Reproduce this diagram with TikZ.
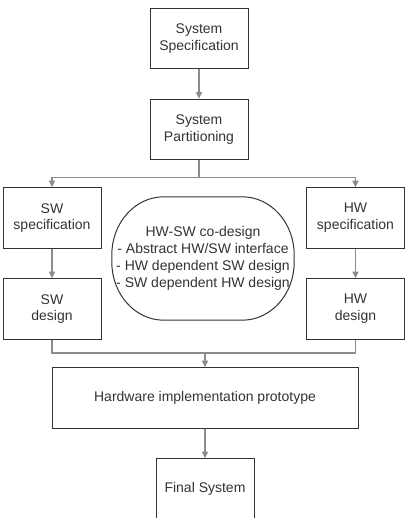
\documentclass[tikz,border=0pt]{standalone}
\usepackage{fontspec}
\setmainfont{Liberation Sans}
\usetikzlibrary{positioning,arrows.meta,calc}

\begin{document}
\begin{tikzpicture}[
  x=1pt, y=1pt,
  font=\fontsize{14}{16.8}\selectfont, text=black!80,
  blk/.style={draw=black!80, line width=1pt, align=center, minimum width=98pt, minimum height=60.5pt, inner sep=2pt},
  conn/.style={draw=black!45, line width=1.4pt},
  arr/.style={conn, -{Triangle[length=6.5pt, width=6pt]}},
  node distance=29.5pt]
\useasboundingbox (0,0) rectangle (408,518);
\node[blk] (sspec) at (199,479.5) {System\\Specification};
\node[blk, below=of sspec] (spart) {System\\Partitioning};
\node[blk] (swspec) at (52,300) {SW\\specification};
\node[blk, below=of swspec] (swdes) {SW\\design};
\node[blk] (hwspec) at (355.5,300) {HW\\specification};
\node[blk, below=of hwspec] (hwdes) {HW\\design};
\node[align=center, minimum width=182pt, minimum height=123pt, inner sep=0pt] (cd) at (203,259.5)
  {HW-SW co-design\\- Abstract HW/SW interface\\- HW dependent SW design\\- SW dependent HW design};
\node[blk, minimum width=306pt] (hwimpl) at (205,120) {Hardware implementation prototype};
\node[blk, below=of hwimpl] (final) {Final System};
\coordinate (split) at ($(spart.south)+(0,-17)$);
\coordinate (merge) at (205,165);
% stadium around the co-design text
\draw[black!80, line width=1pt] ([xshift=52pt]cd.north west) -- ([xshift=-52pt]cd.north east)
  arc[start angle=90, end angle=0, x radius=52pt, y radius=58pt] -- ([yshift=58pt]cd.south east)
  arc[start angle=0, end angle=-90, x radius=52pt, y radius=58pt] -- ([xshift=52pt]cd.south west)
  arc[start angle=270, end angle=180, x radius=52pt, y radius=58pt] -- ([yshift=-58pt]cd.north west)
  arc[start angle=180, end angle=90, x radius=52pt, y radius=58pt] -- cycle;
\draw[arr] (sspec) -- (spart);
\draw[conn] (spart) -- (split);
\draw[arr] (split) -| (swspec);
\draw[arr] (split) -| (hwspec);
\draw[arr] (swspec) -- (swdes);
\draw[arr] (hwspec) -- (hwdes);
\draw[conn] (swdes.south) |- (merge) -| (hwdes.south);
\draw[arr] (merge) -- (hwimpl);
\draw[arr] (hwimpl) -- (final);
\end{tikzpicture}
\end{document}
